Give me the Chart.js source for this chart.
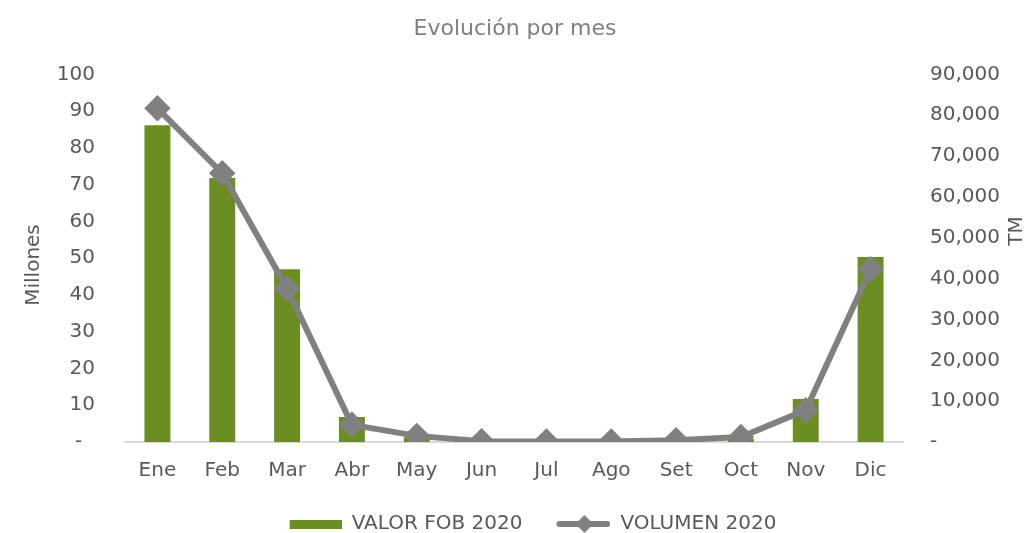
<!DOCTYPE html>
<html>
<head>
<meta charset="utf-8">
<script src="https://cdn.jsdelivr.net/npm/chart.js@4/dist/chart.umd.min.js"></script>
<style>
    html, body { margin: 0; padding: 0; background: #fff; }
    #wrap { width: 1030px; height: 533px; }
</style>
</head>
<body>
<div id="wrap"><canvas id="evolucion-chart" width="1030" height="533"></canvas></div>
<script>
const months = ['Ene', 'Feb', 'Mar', 'Abr', 'May', 'Jun', 'Jul', 'Ago', 'Set', 'Oct', 'Nov', 'Dic']
const valorFob = [86.2, 71.8, 47.0, 6.8, 1.2, 0.2, 0.1, 0.1, 0.3, 0.9, 11.7, 50.3]
const volumen = [81700, 65800, 37600, 4200, 1500, 200, 150, 150, 450, 1200, 7800, 42300]

const green = '#6b8e23'
const grey = '#808080'
const textColor = '#595959'
const fontFamily = "'DejaVu Sans', sans-serif"

// legend swatches, drawn on the right part of an 88px wide box
const makeSwatch = function (kind) {
    const c = document.createElement('canvas')
    c.width = 88
    c.height = 20
    const g = c.getContext('2d')
    if (kind === 'bar') {
        g.fillStyle = green
        g.fillRect(36, 6, 52, 9)
    } else {
        g.strokeStyle = grey
        g.lineWidth = 6
        g.lineCap = 'round'
        g.beginPath()
        g.moveTo(37, 10)
        g.lineTo(85, 10)
        g.stroke()
        g.fillStyle = grey
        g.beginPath()
        g.moveTo(62, 1)
        g.lineTo(71, 10)
        g.lineTo(62, 19)
        g.lineTo(53, 10)
        g.closePath()
        g.fill()
    }
    return c
}

// axis titles, both read bottom to top like the original
const axisTitles = {
    id: 'axisTitles',
    afterDraw(chart) {
        const c = chart.ctx
        const put = function (text, x, y) {
            c.save()
            c.fillStyle = textColor
            c.font = '20px ' + fontFamily
            c.textAlign = 'center'
            c.textBaseline = 'middle'
            c.translate(x, y)
            c.rotate(-Math.PI / 2)
            c.fillText(text, 0, 0)
            c.restore()
        }
        put('Millones', 34, 265)
        put('TM', 1017, 231)
    }
}

const ctx = document.getElementById('evolucion-chart').getContext('2d')
const chart = new Chart(ctx, {
    type: 'bar',
    data: {
        labels: months,
        datasets: [{
            type: 'bar',
            label: 'VALOR FOB 2020',
            data: valorFob,
            backgroundColor: green,
            borderWidth: 0,
            barPercentage: 0.4,
            categoryPercentage: 1,
            yAxisID: 'y',
            order: 1
        }, {
            type: 'line',
            label: 'VOLUMEN 2020',
            data: volumen,
            borderColor: grey,
            backgroundColor: grey,
            borderWidth: 6,
            pointStyle: 'rectRot',
            pointRadius: 9,
            pointHoverRadius: 9,
            tension: 0,
            yAxisID: 'y1',
            order: 0
        }]
    },
    plugins: [axisTitles],
    options: {
        responsive: false,
        animation: false,
        layout: {
            padding: { left: 0, right: 0, top: 0, bottom: -11 }
        },
        plugins: {
            title: {
                display: true,
                text: 'Evolución por mes',
                color: '#7f7f7f',
                font: { family: fontFamily, size: 22, weight: 'normal' },
                padding: { top: 16, bottom: 32 }
            },
            legend: {
                position: 'bottom',
                labels: {
                    usePointStyle: true,
                    pointStyleWidth: 88,
                    color: textColor,
                    font: { family: fontFamily, size: 20 },
                    padding: 0,
                    generateLabels: function (chart) {
                        return chart.data.datasets.map((ds, i) => ({
                            text: ds.label,
                            datasetIndex: i,
                            pointStyle: makeSwatch(i === 0 ? 'bar' : 'line'),
                            fillStyle: 'transparent',
                            strokeStyle: 'transparent',
                            lineWidth: 0,
                            fontColor: textColor,
                            hidden: false
                        }))
                    }
                }
            },
            tooltip: { enabled: false }
        },
        scales: {
            x: {
                grid: { display: false, drawTicks: false },
                border: { color: '#d9d9d9', width: 2 },
                ticks: {
                    color: textColor,
                    padding: 17,
                    font: { family: fontFamily, size: 20 }
                },
                afterFit: function (scale) { scale.height = 72 }
            },
            y: {
                position: 'left',
                min: 0,
                max: 100,
                grid: { display: false, drawTicks: false },
                border: { display: false },
                ticks: {
                    stepSize: 10,
                    color: textColor,
                    padding: 30,
                    font: { family: fontFamily, size: 20 },
                    callback: (v) => v === 0 ? '-  ' : v
                },
                afterFit: function (scale) { scale.width = 125 }
            },
            y1: {
                position: 'right',
                min: 0,
                max: 90000,
                grid: { display: false, drawTicks: false },
                border: { display: false },
                ticks: {
                    stepSize: 10000,
                    color: textColor,
                    padding: 27,
                    font: { family: fontFamily, size: 20 },
                    callback: (v) => v === 0 ? '-' : v.toLocaleString('en-US')
                },
                afterFit: function (scale) { scale.width = 127 }
            }
        }
    }
})
</script>
</body>
</html>
